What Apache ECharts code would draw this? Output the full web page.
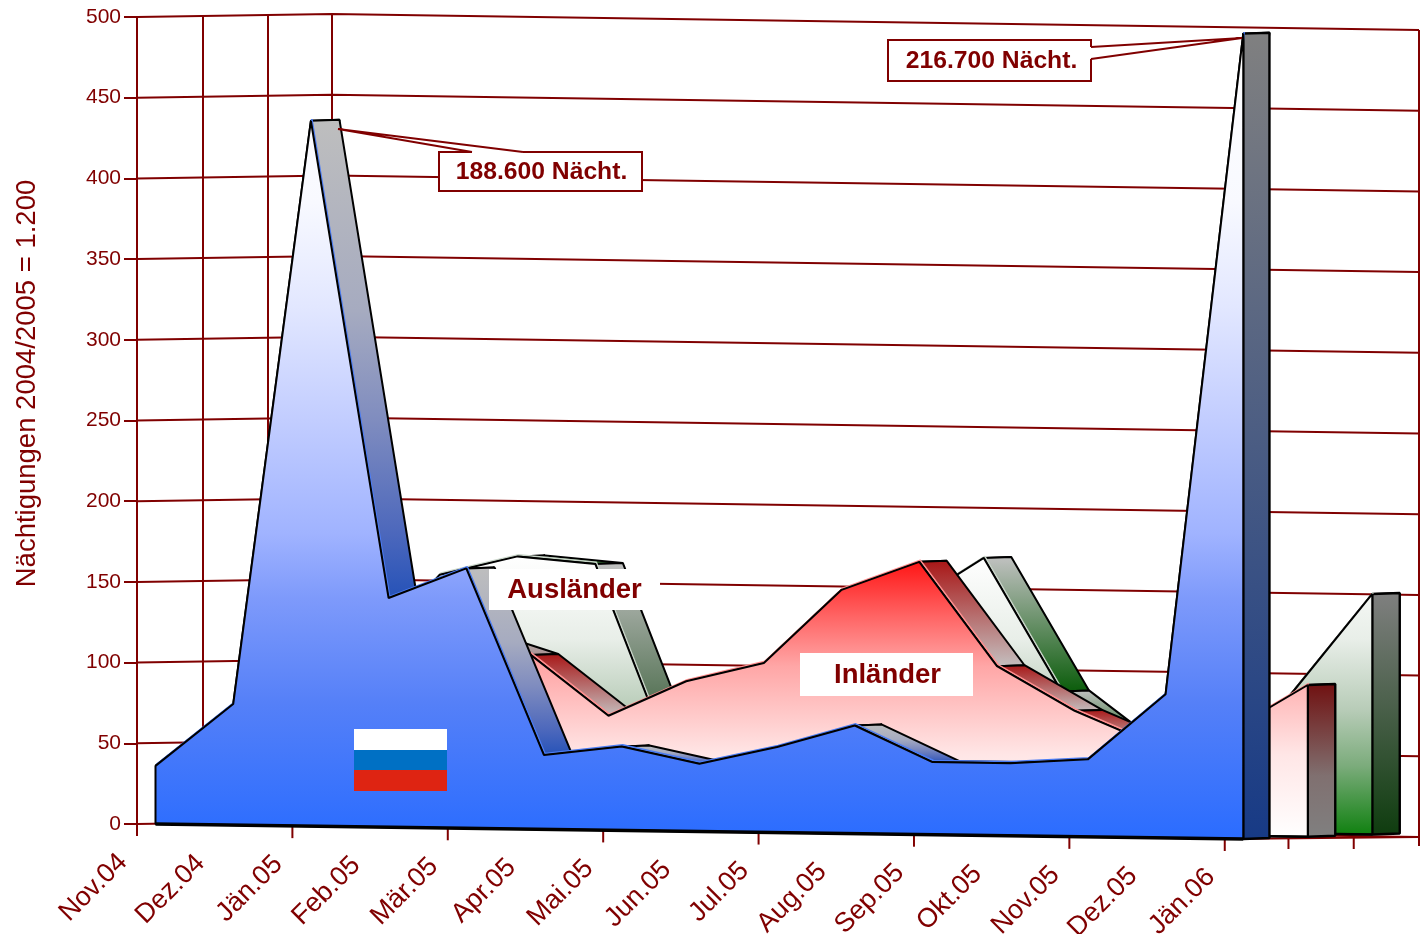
<!DOCTYPE html>
<html><head><meta charset="utf-8">
<style>html,body{margin:0;padding:0;background:#fff}#c{width:1424px;height:934px}</style>
<script src="https://cdn.jsdelivr.net/npm/echarts@6/dist/echarts.min.js"></script>
</head><body><div id="c"></div>
<script>
const categories = ['Nov.04','Dez.04','Jän.05','Feb.05','Mär.05','Apr.05','Mai.05','Jun.05','Jul.05','Aug.05','Sep.05','Okt.05','Nov.05','Dez.05','Jän.06'];
const russiaTotal = [36,75,437,142,161,46,52,42,53,67,45,45,48,89,499];
const inlaender   = [60,70,100,121,106,69,91,103,149,167,103,76,56,65,94];
const auslaender  = [60,100,153,165,161,38,60,100,137,168,86,50,30,89,149];
const yTicks = [0,50,100,150,200,250,300,350,400,450,500];
const axisName = 'Nächtigungen 2004/2005 = 1.200';
const DARK = '#800000';
const FONT = '"Liberation Sans", Arial, sans-serif';

const UNIT = 1282/16.5, SHEAR = 1.07, LIFT = 0.035, START = 18.5, STEP = 64.5;
function proj(api, i, v, dz){
  const c = api.coord([i + (START + dz)/UNIT, v]);
  return [c[0], c[1] + SHEAR*i - LIFT*dz];
}
function grad(stops){
  return new echarts.graphic.LinearGradient(0,0,0,1,stops.map(s=>({offset:s[0],color:s[1]})));
}
function poly(points, fill, lw){
  return {type:'polygon', shape:{points}, style:{fill, stroke:'#000', lineWidth:lw||2, lineJoin:'bevel'}};
}
function areaRender(values, order, look){
  return function(params, api){
    if(params.dataIndex!==0) return null;
    const base = order*STEP, kids=[];
    const n = values.length;
    for(let i=0;i<n-1;i++){
      const a=proj(api,i,values[i],base), b=proj(api,i+1,values[i+1],base);
      const c=proj(api,i+1,values[i+1],base+look.depth(i+1)), d=proj(api,i,values[i],base+look.depth(i));
      kids.push(poly([a,b,c,d], grad(look.side(i))));
    }
    const L=n-1, dL=look.depth(L);
    kids.push(poly([proj(api,L,values[L],base),proj(api,L,values[L],base+dL),proj(api,L,0,base+dL),proj(api,L,0,base)], grad(look.cap), 2.4));
    const front=[proj(api,0,0,base)];
    values.forEach((v,i)=>front.push(proj(api,i,v,base)));
    front.push(proj(api,L,0,base));
    const top=values.map((v,i)=>{const p=proj(api,i,v,base);return [p[0]+1,p[1]-1.6];});
    kids.push({type:'polyline',shape:{points:top},style:{fill:null,stroke:look.edge,lineWidth:1.6,lineJoin:'bevel'}});
    kids.push(poly(front, grad(look.front)));
    kids.push({type:'line',shape:{x1:front[0][0],y1:front[0][1],x2:front[front.length-1][0],y2:front[front.length-1][1]},
      style:{stroke:'#000',lineWidth:look.baseWidth}});
    return {type:'group',children:kids};
  };
}
const blueLook = {
  depth:i=>29-0.2*i,
  edge:'#4a7cf4',
  side:()=>[[0,'#bebebe'],[0.4,'#a6abc0'],[0.63,'#7f8cbf'],[0.86,'#4d68bc'],[1,'#2552b8']],
  cap:[[0,'#808080'],[1,'#173a86']],
  front:[[0,'#ffffff'],[0.21,'#f8f9ff'],[0.34,'#e2e7ff'],[0.48,'#c2cdff'],[0.62,'#a0b3ff'],[0.7,'#7e9afb'],[0.83,'#5580f8'],[1,'#2a6cff']],
  baseWidth:3.5
};
const redLook = {
  depth:()=>27.5,
  edge:'#ff9090',
  side:i=> i===3 ? [[0,'#c8c8c8'],[1,'#a89090']] : [[0,'#a81515'],[1,'#c4c0c0']],
  cap:[[0,'#701010'],[0.6,'#807070'],[1,'#808080']],
  front:[[0,'#ff1414'],[0.2,'#ff6464'],[0.38,'#ffa6a6'],[0.7,'#ffe6e6'],[1,'#ffffff']],
  baseWidth:2.4
};
const greenLook = {
  depth:()=>27.5,
  edge:'#c8d4c8',
  side:i=> i===4 ? [[0,'#c2c2c2'],[0.63,'#5f7a5f'],[1,'#2a5c2a']] : [[0,'#c2c2c2'],[1,'#0a5c0a']],
  cap:[[0,'#808080'],[1,'#0e3c0e']],
  front:[[0,'#ffffff'],[0.3,'#e8eee8'],[0.55,'#b8ccb8'],[0.75,'#7cac7c'],[1,'#0f800f']],
  baseWidth:2.4
};

function wallRender(params, api){
  if(params.dataIndex!==0) return null;
  const kids=[]; const corner=195/UNIT, END=16.5;
  const stroke={stroke:DARK,lineWidth:2};
  const wall=(x,v)=>{const c=api.coord([x,v]);
    const s = x<=corner ? -3*x/corner : -3 + 16*(x-corner)/(END-corner);
    return [c[0],c[1]+s];};
  yTicks.forEach(v=>{
    kids.push({type:'polyline',shape:{points:[wall(0,v),wall(corner,v),wall(END,v)]},style:{fill:null,...stroke}});
  });
  [66/UNIT,131/UNIT,corner,END].forEach(x=>{
    const t=wall(x,500), b=wall(x,0);
    kids.push({type:'line',shape:{x1:t[0],y1:t[1],x2:b[0],y2:b[1]+(x===END?9:0)},style:{...stroke}});
  });
  const zero=api.coord([0,0]);
  kids.push({type:'line',shape:{x1:zero[0],y1:zero[1],x2:zero[0],y2:zero[1]+12},style:{...stroke}});
  categories.forEach((lab,i)=>{
    const p=api.coord([i,0]); const y=p[1]+SHEAR*i;
    if(i%2===0) kids.push({type:'line',shape:{x1:p[0],y1:y,x2:p[0],y2:y+12},style:{...stroke}});
    kids.push({type:'text',x:p[0]-14,y:y+34,rotation:Math.PI/4,
      style:{text:lab,fill:DARK,font:'27px '+FONT,align:'right',verticalAlign:'middle'}});
  });
  [14.82,15.66].forEach(x=>{const p=api.coord([x,0]);const y=p[1]+14;
    kids.push({type:'line',shape:{x1:p[0],y1:y,x2:p[0],y2:y+11},style:{...stroke}});});
  const f0=api.coord([14,0]), f1=api.coord([END,0]);
  kids.push({type:'line',shape:{x1:f0[0],y1:f0[1]+15,x2:f1[0],y2:f1[1]+13},style:{...stroke}});
  return {type:'group',children:kids};
}
function layer(render, values){
  return {type:'custom',coordinateSystem:'cartesian2d',silent:true,clip:false,renderItem:render,
    data:values.map((v,i)=>[i,v]),encode:{x:0,y:1},animation:false};
}
function box(x,y,w,h,text,size,border,shift){
  return [{type:'rect',shape:{x,y,width:w,height:h},style:{fill:'#fff',stroke:border?DARK:null,lineWidth:2},z:20},
    {type:'text',x:x+w/2+(shift||0),y:y+h/2+0.5,style:{text,fill:DARK,font:'bold '+size+'px '+FONT,align:'center',verticalAlign:'middle'},z:21}];
}
function wedge(points){
  const a=points[0],b=points[2];
  return [{type:'polyline',shape:{points},style:{fill:'#fff',stroke:DARK,lineWidth:2},z:22},
    {type:'line',shape:{x1:a[0],y1:a[1],x2:b[0],y2:b[1]},style:{stroke:'#fff',lineWidth:2.4},z:21}];
}
const chart=echarts.init(document.getElementById('c'),null,{renderer:'canvas'});
chart.setOption({
  animation:false,backgroundColor:'#fff',
  grid:{left:137,right:5,top:17,bottom:110},
  xAxis:{type:'value',min:0,max:16.5,show:false},
  yAxis:{type:'value',min:0,max:500,interval:50,
    name:axisName,nameLocation:'middle',nameGap:96,nameRotate:90,
    nameTextStyle:{color:DARK,fontSize:27.5,fontFamily:FONT,padding:[0,0,0,74]},
    axisLine:{show:true,lineStyle:{color:DARK,width:2}},
    axisTick:{show:true,length:13,lineStyle:{color:DARK,width:2}},
    axisLabel:{color:DARK,fontSize:21,fontFamily:FONT,margin:16,padding:[2,0,0,0]},
    splitLine:{show:false}},
  series:[
    layer(wallRender,russiaTotal),
    layer(areaRender(auslaender,2,greenLook),auslaender),
    layer(areaRender(inlaender,1,redLook),inlaender),
    layer(areaRender(russiaTotal,0,blueLook),russiaTotal)
  ],
  graphic:[
    {type:'rect',shape:{x:354,y:729,width:93,height:21},style:{fill:'#ffffff'},z:20},
    {type:'rect',shape:{x:354,y:750,width:93,height:20},style:{fill:'#0070c4'},z:20},
    {type:'rect',shape:{x:354,y:770,width:93,height:21},style:{fill:'#de2412'},z:20},
    ...box(439,152,203,39,'188.600 Nächt.',24.7,true,1),
    ...wedge([[523,152],[338,129],[472,152]]),
    ...box(888,40,203,41,'216.700 Nächt.',24.7,true,2),
    ...wedge([[1091,47],[1242,38],[1091,59]]),
    ...box(489,569,171,41,'Ausländer',27.5,false),
    ...box(800,653,173,43,'Inländer',27.5,false,1)
  ]
});
</script></body></html>
